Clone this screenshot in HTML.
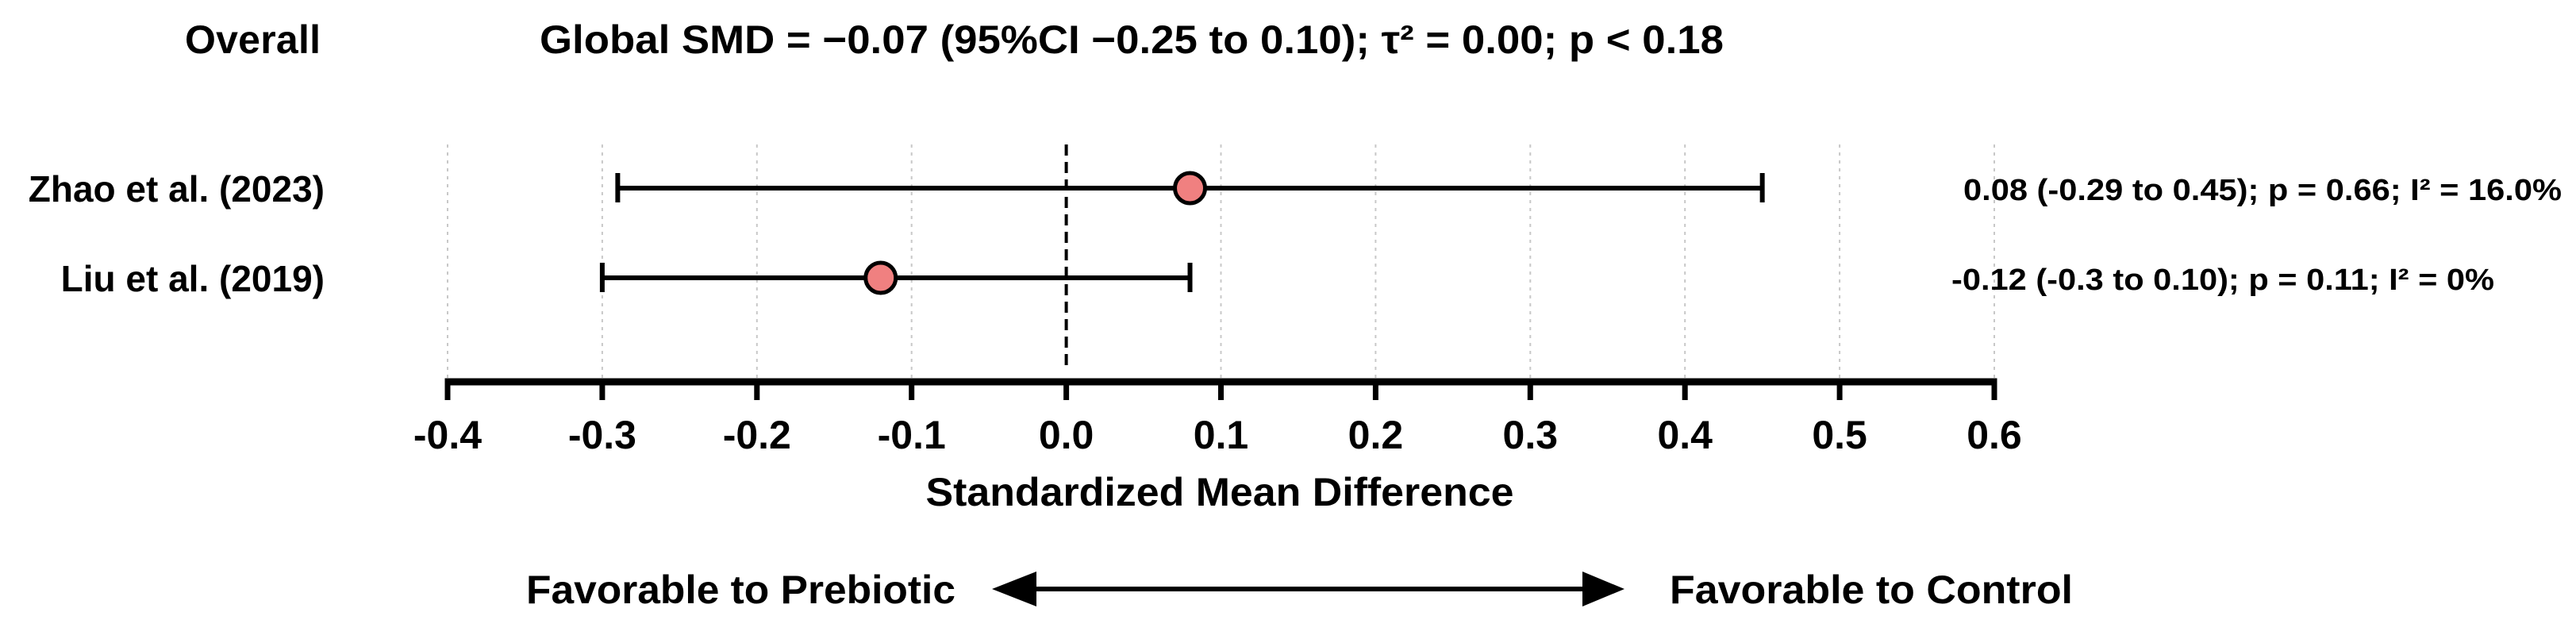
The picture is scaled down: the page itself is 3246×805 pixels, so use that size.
<!DOCTYPE html>
<html><head><meta charset="utf-8"><style>
html,body{margin:0;padding:0;background:#fff;}
svg{display:block;font-family:"Liberation Sans",Arial,sans-serif;font-weight:bold;}
</style></head><body>
<svg id="chart" width="3246" height="805" viewBox="0 0 3246 805" xmlns="http://www.w3.org/2000/svg">
<text x="404" y="67" font-size="50" text-anchor="end" textLength="171">Overall</text>
<text x="680" y="67" font-size="50" textLength="1492" lengthAdjust="spacingAndGlyphs">Global SMD = −0.07 (95%CI −0.25 to 0.10); τ² = 0.00; p &lt; 0.18</text>
<g id="grid"></g>
<g id="zero"></g>
<g id="axis"></g>
<g id="rows"></g>
<text x="1537" y="637" font-size="50" text-anchor="middle" textLength="741" lengthAdjust="spacingAndGlyphs">Standardized Mean Difference</text>
<text x="663" y="760" font-size="50" textLength="541" lengthAdjust="spacingAndGlyphs">Favorable to Prebiotic</text>
<g>
<line x1="1300" y1="742" x2="2000" y2="742" stroke="#000" stroke-width="6"/>
<polygon points="1250,742 1306,720 1306,764" fill="#000"/>
<polygon points="2047,742 1994,720 1994,764" fill="#000"/>
</g>
<text x="2104" y="760" font-size="50" textLength="508" lengthAdjust="spacingAndGlyphs">Favorable to Control</text>
</svg>
<script>
const studies = ["Zhao et al. (2023)", "Liu et al. (2019)"];
const smd = [0.08, -0.12];
const lower = [-0.29, -0.30];
const upper = [0.45, 0.08];
const annotations = ["0.08 (-0.29 to 0.45); p = 0.66; I² = 16.0%", "-0.12 (-0.3 to 0.10); p = 0.11; I² = 0%"];
const ticks = [-0.4, -0.3, -0.2, -0.1, 0.0, 0.1, 0.2, 0.3, 0.4, 0.5, 0.6];
const tickLabels = ["-0.4","-0.3","-0.2","-0.1","0.0","0.1","0.2","0.3","0.4","0.5","0.6"];

const NS = "http://www.w3.org/2000/svg";
const xMin = -0.4, xMax = 0.6, px0 = 564, px1 = 2513;
function xs(v){ return px0 + (v - xMin) / (xMax - xMin) * (px1 - px0); }
const rowY0 = 237, rowStep = 113;
function ys(i){ return rowY0 + i * rowStep; }
function mk(tag, attrs, parent){ const e = document.createElementNS(NS, tag); for (const k in attrs) e.setAttribute(k, attrs[k]); parent.appendChild(e); return e; }

const grid = document.getElementById('grid');
const axis = document.getElementById('axis');
ticks.forEach((t, i) => {
  const x = xs(t);
  if (t !== 0) {
    const g = mk('line', {x1:x, y1:182, x2:x, y2:476, stroke:'#c8c8c8', 'stroke-width':2, 'stroke-dasharray':'4 6'}, grid);
    
    
  }
  const tk = mk('line', {x1:x, y1:478, x2:x, y2:504, stroke:'#000', 'stroke-width':7}, axis);
  
  
  const lb = mk('text', {x:x, y:565, 'font-size':50, 'text-anchor':'middle'}, axis);
  lb.textContent = tickLabels[i];
  
  
});
const al = mk('line', {x1:xs(xMin)-3.5, y1:481, x2:xs(xMax)+3.5, y2:481, stroke:'#000', 'stroke-width':9}, axis);



const zero = document.getElementById('zero');
const zl = mk('line', {x1:xs(0), y1:182, x2:xs(0), y2:468, stroke:'#000', 'stroke-width':4, 'stroke-dasharray':'14 8'}, zero);



const rows = document.getElementById('rows');
studies.forEach((s, i) => {
  const y = ys(i);
  const g = mk('g', {}, rows);
  
  
  const name = mk('text', {x:409, y:y+17, 'font-size':46, 'text-anchor':'end'}, g);
  name.textContent = s;
  
  
  const ci = mk('line', {x1:xs(lower[i]), y1:y, x2:xs(upper[i]), y2:y, stroke:'#000', 'stroke-width':6}, g);
  
  
  [lower[i], upper[i]].forEach(v => {
    const c = mk('line', {x1:xs(v), y1:y-19, x2:xs(v), y2:y+18, stroke:'#000', 'stroke-width':6}, g);
    
    
  });
  const pt = mk('circle', {cx:xs(smd[i]), cy:y, r:19, fill:'#f08080', stroke:'#000', 'stroke-width':5}, g);
  
  
  const an = mk('text', {x: i === 0 ? 2474 : 2459, y:y+15, 'font-size':38}, g);
  an.textContent = annotations[i];
  an.setAttribute('textLength', i === 0 ? 754 : 684);
  an.setAttribute('lengthAdjust', 'spacingAndGlyphs');
  
  
});
</script>
</body></html>
